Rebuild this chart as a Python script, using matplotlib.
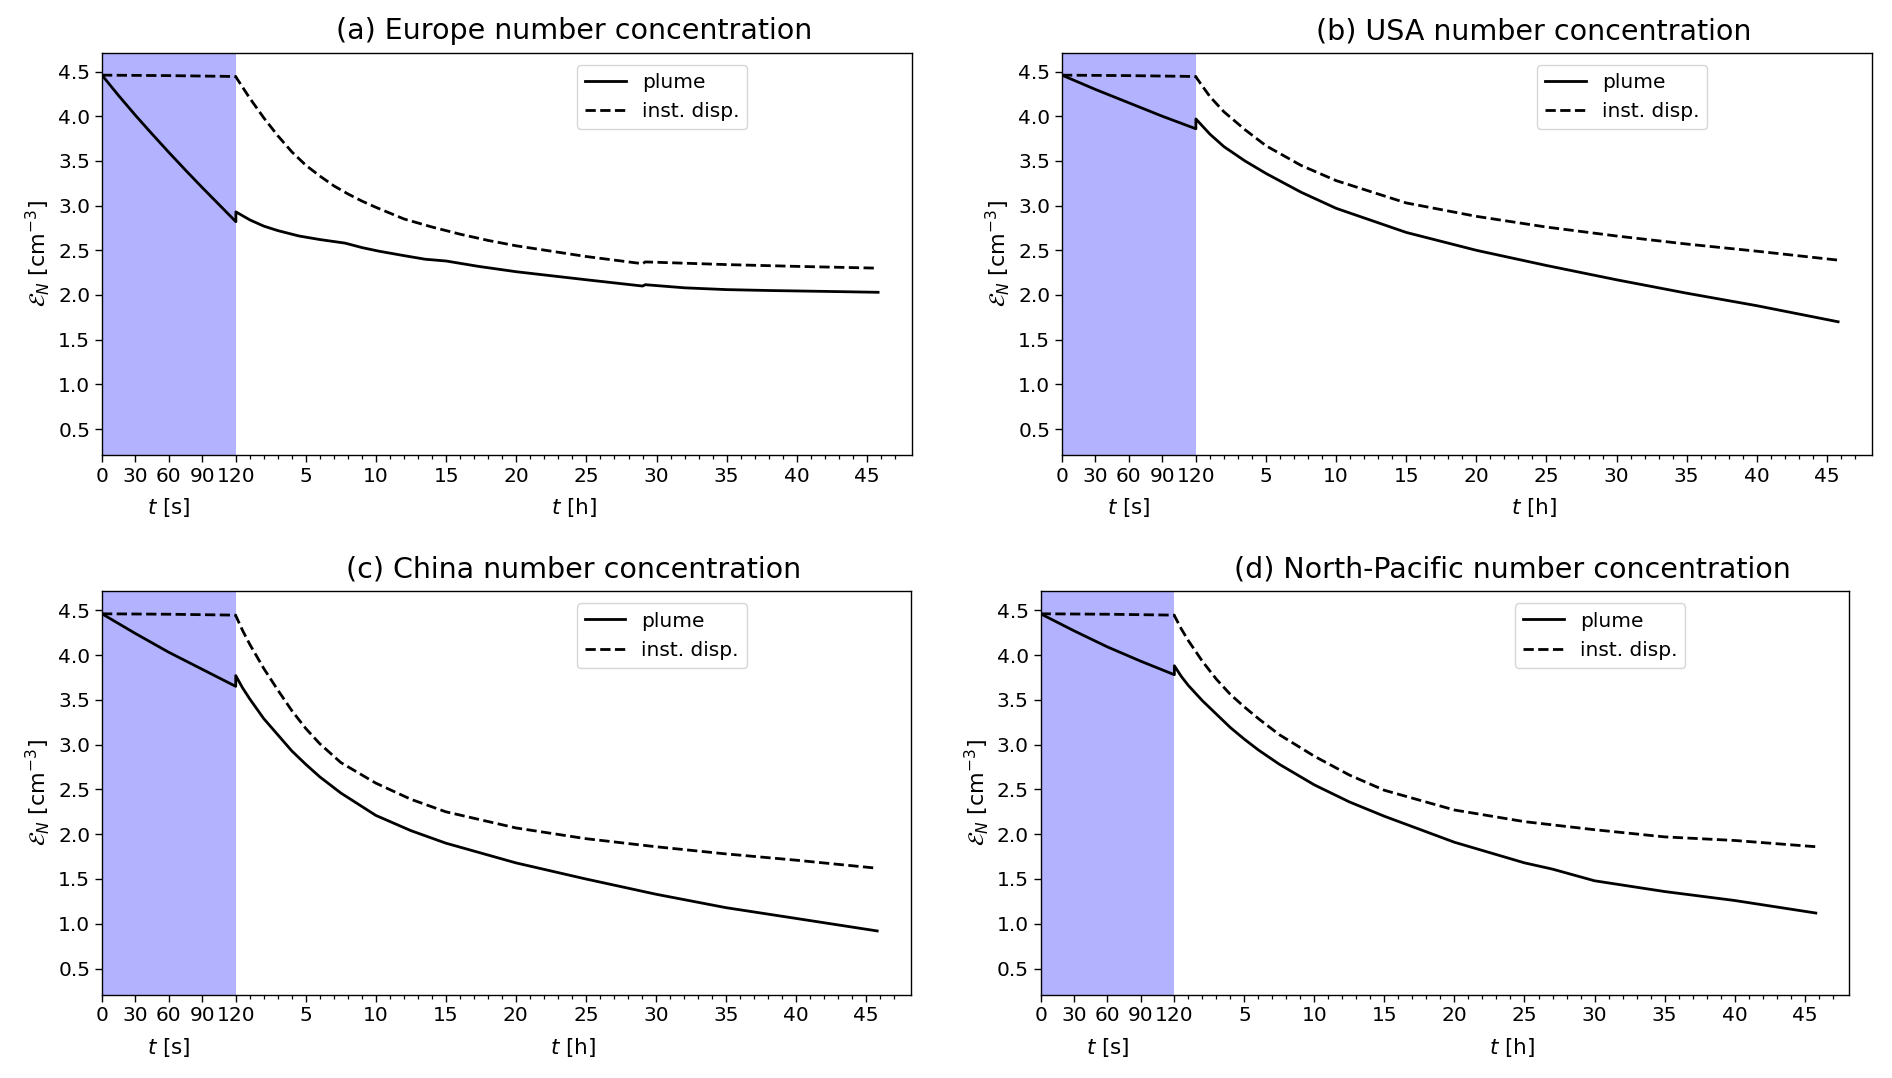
import numpy as np
import matplotlib
matplotlib.use("Agg")
import matplotlib.pyplot as plt
import matplotlib.transforms as mtransforms

# values
titles = ["(a) Europe number concentration", "(b) USA number concentration",
          "(c) China number concentration", "(d) North-Pacific number concentration"]

# seconds part (0 - 120 s)
a_plume_s_t = [0, 15, 30, 45, 60, 75, 90, 105, 120]
a_plume_s_v = [4.46, 4.23, 4.01, 3.80, 3.595, 3.395, 3.20, 3.01, 2.82]
b_plume_s_t = [0, 30, 60, 90, 120]
b_plume_s_v = [4.46, 4.30, 4.15, 4.00, 3.86]
c_plume_s_t = [0, 30, 60, 90, 120]
c_plume_s_v = [4.46, 4.24, 4.03, 3.84, 3.65]
d_plume_s_t = [0, 30, 60, 90, 120]
d_plume_s_v = [4.46, 4.27, 4.09, 3.93, 3.78]
disp_s_t = [0, 60, 120]
disp_s_v = [4.46, 4.455, 4.445]

# hours part
a_plume_h_t = [0, 1, 2, 3, 4.5, 6, 7.8, 9, 10.2, 12, 13.5, 15, 17.3, 20, 25, 29, 29.2, 32, 35, 38, 42, 45.8]
a_plume_h_v = [2.93, 2.84, 2.77, 2.72, 2.66, 2.62, 2.58, 2.53, 2.49, 2.44, 2.40, 2.38, 2.32, 2.26, 2.17, 2.10, 2.115,
               2.08, 2.06, 2.05, 2.04, 2.03]
a_disp_h_t = [0, 1, 2, 3, 4, 5, 6, 7, 8, 9, 10, 12, 14, 16, 18, 20, 25, 29, 29.2, 35, 40, 45.8]
a_disp_h_v = [4.44, 4.20, 3.98, 3.78, 3.60, 3.45, 3.33, 3.22, 3.13, 3.05, 2.98, 2.85, 2.76, 2.68, 2.61, 2.55, 2.43,
              2.35, 2.37, 2.34, 2.32, 2.30]

b_plume_h_t = [0, 1, 2, 3.5, 5, 7.5, 10, 15, 20, 25, 30, 35, 40, 45.8]
b_plume_h_v = [3.97, 3.80, 3.66, 3.50, 3.36, 3.15, 2.97, 2.70, 2.50, 2.33, 2.17, 2.02, 1.88, 1.70]
b_disp_h_t = [0, 1, 2, 3.5, 5, 7.5, 10, 15, 20, 25, 30, 35, 40, 45.8]
b_disp_h_v = [4.44, 4.22, 4.05, 3.85, 3.67, 3.45, 3.28, 3.03, 2.88, 2.76, 2.66, 2.57, 2.49, 2.39]

c_plume_h_t = [0, 0.5, 1, 2, 3, 4, 5, 6, 7.5, 10, 12.5, 15, 20, 25, 30, 35, 40, 45.8]
c_plume_h_v = [3.77, 3.63, 3.51, 3.29, 3.11, 2.93, 2.78, 2.64, 2.46, 2.21, 2.04, 1.90, 1.68, 1.50, 1.33, 1.18, 1.06, 0.92]
c_disp_h_t = [0, 0.5, 1, 2, 3, 4, 5, 6, 7.5, 10, 12.5, 15, 20, 25, 30, 35, 40, 45.8]
c_disp_h_v = [4.44, 4.27, 4.12, 3.85, 3.61, 3.38, 3.18, 3.01, 2.80, 2.57, 2.39, 2.25, 2.07, 1.95, 1.86, 1.78, 1.71, 1.62]

d_plume_h_t = [0, 0.5, 1, 2, 3, 4, 5, 6, 7.5, 10, 12.5, 15, 20, 25, 27, 30, 35, 40, 45.8]
d_plume_h_v = [3.88, 3.76, 3.66, 3.49, 3.34, 3.19, 3.06, 2.94, 2.78, 2.55, 2.36, 2.20, 1.91, 1.68, 1.61, 1.48, 1.36,
               1.26, 1.12]
d_disp_h_t = [0, 0.5, 1, 2, 3, 4, 5, 6, 7.5, 10, 12.5, 15, 20, 25, 30, 35, 40, 45.8]
d_disp_h_v = [4.44, 4.29, 4.16, 3.93, 3.73, 3.56, 3.42, 3.29, 3.11, 2.87, 2.66, 2.49, 2.27, 2.14, 2.05, 1.97, 1.93, 1.86]

sec_ticks = [0, 30, 60, 90, 120]
hour_ticks = [5, 10, 15, 20, 25, 30, 35, 40, 45]

SEC_W = 9.55   # width of the seconds section, in hour units
H_MAX = 48.2

panels = [
    (a_plume_s_t, a_plume_s_v, a_plume_h_t, a_plume_h_v, a_disp_h_t, a_disp_h_v),
    (b_plume_s_t, b_plume_s_v, b_plume_h_t, b_plume_h_v, b_disp_h_t, b_disp_h_v),
    (c_plume_s_t, c_plume_s_v, c_plume_h_t, c_plume_h_v, c_disp_h_t, c_disp_h_v),
    (d_plume_s_t, d_plume_s_v, d_plume_h_t, d_plume_h_v, d_disp_h_t, d_disp_h_v),
]
positions = [
    [0.0539, 0.578, 0.428, 0.373],
    [0.5613, 0.578, 0.428, 0.373],
    [0.0539, 0.0774, 0.4275, 0.374],
    [0.5500, 0.0774, 0.4275, 0.374],
]


def to_x(t_sec=None, t_hour=None):
    if t_sec is not None:
        return np.asarray(t_sec, dtype=float) / 120.0 * SEC_W
    return SEC_W + np.asarray(t_hour, dtype=float)


fig = plt.figure(figsize=(18.92, 10.78), dpi=100)

for i, (ps_t, ps_v, ph_t, ph_v, dh_t, dh_v) in enumerate(panels):
    ax = fig.add_axes(positions[i])

    ax.axvspan(0, SEC_W, color='blue', alpha=0.3, lw=0)

    x_plume = np.concatenate([to_x(t_sec=ps_t), to_x(t_hour=ph_t)])
    y_plume = np.concatenate([ps_v, ph_v])
    x_disp = np.concatenate([to_x(t_sec=disp_s_t), to_x(t_hour=dh_t)])
    y_disp = np.concatenate([disp_s_v, dh_v])

    ax.plot(x_plume, y_plume, 'k-', lw=2.0, label='plume')
    ax.plot(x_disp, y_disp, 'k--', lw=2.0, label='inst. disp.')

    ax.set_xlim(0, SEC_W + H_MAX)
    ax.set_ylim(0.21, 4.71)
    ax.set_yticks([0.5, 1.0, 1.5, 2.0, 2.5, 3.0, 3.5, 4.0, 4.5])

    major = list(to_x(t_sec=sec_ticks)) + list(to_x(t_hour=hour_ticks))
    labels = [str(s) for s in sec_ticks] + [str(h) for h in hour_ticks]
    ax.set_xticks(major)
    ax.set_xticklabels(labels)
    minor_h = [h for h in range(1, 48) if h % 5 != 0]
    ax.set_xticks(to_x(t_hour=minor_h), minor=True)

    ax.tick_params(axis='both', which='major', labelsize=14.5, length=5, width=1)
    ax.tick_params(axis='x', which='minor', length=2.6, width=0.9)
    for sp in ax.spines.values():
        sp.set_linewidth(1.0)

    trans = mtransforms.blended_transform_factory(ax.transData, ax.transAxes)
    ax.text(SEC_W / 2, -0.132, '$t$ [s]', transform=trans, ha='center', va='center', fontsize=15.5)
    ax.text(SEC_W + H_MAX / 2, -0.132, '$t$ [h]', transform=trans, ha='center', va='center', fontsize=15.5)

    ax.set_ylabel(r'$\mathcal{E}_N$ [cm$^{-3}$]', fontsize=16, labelpad=4)
    # title sits over the hours part of the panel
    ax.annotate(titles[i], xy=(SEC_W + H_MAX / 2, 1.0), xycoords=trans,
                xytext=(0, 5.5), textcoords='offset points',
                ha='center', va='bottom', fontsize=20.5)

    ax.legend(loc='upper right', bbox_to_anchor=(0.812, 1.0), fontsize=14.5,
              handlelength=2.0, borderaxespad=0.6)

fig.savefig('out.png', dpi=100)
